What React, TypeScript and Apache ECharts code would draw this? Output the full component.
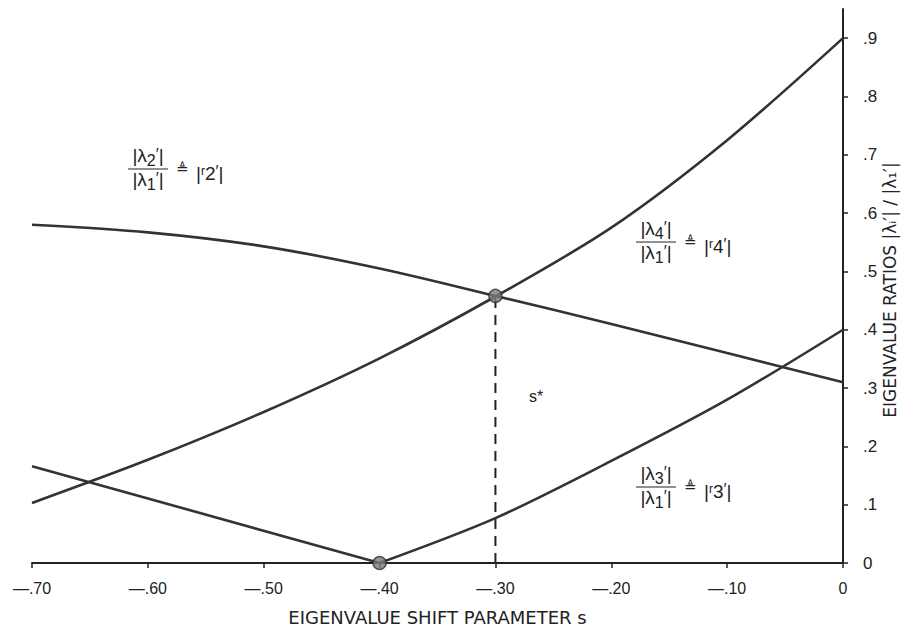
import React, { useEffect, useRef } from "react";
import * as echarts from "echarts";

// s values (eigenvalue shift parameter)
const sGrid = [-0.7, -0.6, -0.5, -0.4, -0.3, -0.2, -0.1, 0];
// |r2'| ratio
const r2 = [0.58, 0.567, 0.543, 0.505, 0.458, 0.41, 0.36, 0.31];
// |r4'| ratio
const r4 = [0.103, 0.177, 0.259, 0.351, 0.457, 0.575, 0.725, 0.9];
// |r3'| ratio, left (linear) branch and right branch
const r3LeftS = [-0.7, -0.4];
const r3Left = [0.166, 0];
const r3RightS = [-0.4, -0.3, -0.2, -0.1, 0];
const r3Right = [0, 0.077, 0.175, 0.28, 0.4];
// optimum shift s* and marked points
const sStar = -0.3;
const rStar = 0.458;
const markS = [-0.3, -0.4];
const markV = [0.458, 0];
// tick labels
const yTicks = [0, 0.1, 0.2, 0.3, 0.4, 0.5, 0.6, 0.7, 0.8, 0.9];

const FONT = "'Liberation Sans', 'DejaVu Sans', sans-serif";
const WIDE = "'DejaVu Sans', 'Liberation Sans', sans-serif";
const INK = "#222";

const rich = {
  m: { fontFamily: FONT, fontSize: 19, color: INK, verticalAlign: "top" },
  s: { fontFamily: FONT, fontSize: 16, color: INK, verticalAlign: "top", padding: [6, 0, 0, 0] },
  p: { fontFamily: FONT, fontSize: 16, color: INK, verticalAlign: "top" },
  r: { fontFamily: FONT, fontSize: 12, color: INK, verticalAlign: "top", padding: [1, 0, 0, 0] },
  q: { fontFamily: FONT, fontSize: 19, color: INK, verticalAlign: "top" },
};

function frac(x: number, yLine: number, k: string) {
  return [
    { type: "text", x: x + 20, y: yLine - 1, style: { text: `{m||λ}{s|${k}}{p|′}{m||}`, rich, fill: INK, textAlign: "center", textVerticalAlign: "bottom" } },
    { type: "line", shape: { x1: x, y1: yLine, x2: x + 40, y2: yLine }, style: { stroke: INK, lineWidth: 1 } },
    { type: "text", x: x + 20, y: yLine + 1, style: { text: `{m||λ}{s|1}{p|′}{m||}`, rich, fill: INK, textAlign: "center", textVerticalAlign: "top" } },
    { type: "text", x: x + 48, y: yLine, style: { text: "≜", font: `15px ${WIDE}`, fill: INK, textAlign: "left", textVerticalAlign: "middle" } },
    { type: "text", x: x + 68, y: yLine + 4, style: { text: `{q||}{r|r}{q|${k}}{p|′}{q||}`, rich, fill: INK, textAlign: "left", textVerticalAlign: "middle" } },
  ];
}

export default function App() {
  const ref = useRef<HTMLDivElement>(null);
  useEffect(() => {
    document.body.style.margin = "0";
    const chart = echarts.init(ref.current!, null, { renderer: "svg" });
    const curve = { type: "line", showSymbol: false, symbol: "none", lineStyle: { color: "#333", width: 2.6 }, z: 3 };
    chart.setOption({
      animation: false,
      backgroundColor: "#fff",
      grid: { left: 32, right: 59, top: 9, bottom: 66, outerBoundsMode: "none", containLabel: false },
      xAxis: {
        type: "value",
        min: -0.7,
        max: 0,
        interval: 0.1,
        axisLine: { show: true, onZero: false, lineStyle: { color: INK, width: 2 } },
        axisTick: { show: true, inside: false, length: 5, lineStyle: { color: INK, width: 1.5 } },
        splitLine: { show: false },
        axisLabel: {
          margin: 17,
          color: INK,
          fontFamily: FONT,
          fontSize: 16,
          formatter: (v: number) => (Math.abs(v) < 1e-9 ? "0" : "—." + String(Math.round(Math.abs(v) * 100)).padStart(2, "0")),
        },
        name: "EIGENVALUE SHIFT PARAMETER s",
        nameLocation: "middle",
        nameGap: 45,
        nameTextStyle: { color: INK, fontFamily: WIDE, fontSize: 18 },
      },
      yAxis: {
        type: "value",
        position: "right",
        min: 0,
        max: 0.95,
        axisLine: { show: true, onZero: false, lineStyle: { color: INK, width: 2 } },
        axisTick: { show: true, inside: false, length: 5, customValues: yTicks, lineStyle: { color: INK, width: 1.5 } },
        splitLine: { show: false },
        axisLabel: {
          customValues: yTicks,
          margin: 20,
          color: INK,
          fontFamily: FONT,
          fontSize: 17,
          formatter: (v: number) => (v < 1e-9 ? "0" : "." + Math.round(v * 10)),
        },
      },
      series: [
        { ...curve, name: "r2", smooth: 0.3, data: sGrid.map((s, i) => [s, r2[i]]) },
        { ...curve, name: "r4", smooth: 0.3, data: sGrid.map((s, i) => [s, r4[i]]) },
        { ...curve, name: "r3L", smooth: false, data: r3LeftS.map((s, i) => [s, r3Left[i]]) },
        { ...curve, name: "r3R", smooth: 0.3, data: r3RightS.map((s, i) => [s, r3Right[i]]) },
        {
          type: "line",
          name: "sstar",
          symbol: "none",
          data: [[sStar, 0], [sStar, rStar]],
          lineStyle: { color: INK, width: 2, type: [10, 7] },
          z: 2,
        },
        {
          type: "scatter",
          name: "marks",
          symbol: "circle",
          symbolSize: 13,
          data: markS.map((s, i) => [s, markV[i]]),
          itemStyle: { color: "#7a7a7a", borderColor: "#333", borderWidth: 1.5 },
          z: 5,
        },
      ],
      graphic: [
        ...frac(128, 169, "2"),
        ...frac(636, 242, "4"),
        ...frac(636, 487, "3"),
        { type: "text", x: 529, y: 396, style: { text: "s*", font: `16px ${FONT}`, fill: INK, textAlign: "left", textVerticalAlign: "middle" } },
        {
          type: "text",
          x: 890,
          y: 290,
          rotation: Math.PI / 2,
          style: { text: "EIGENVALUE RATIOS |λᵢ′| / |λ₁′|", font: `17px ${WIDE}`, fill: INK, textAlign: "center", textVerticalAlign: "middle" },
        },
      ],
    });
    return () => chart.dispose();
  }, []);
  return <div ref={ref} style={{ width: 902, height: 629 }} />;
}
